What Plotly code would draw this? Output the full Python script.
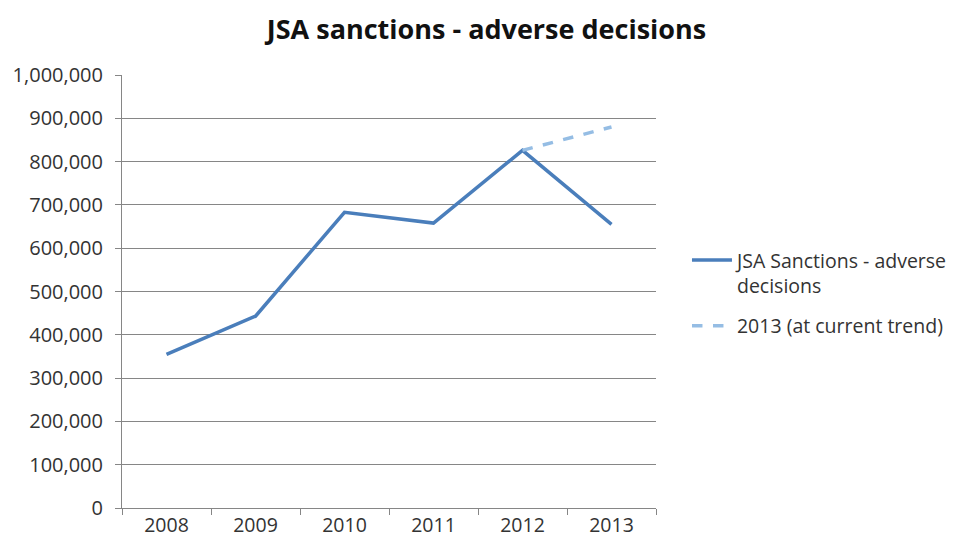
import plotly.graph_objects as go

years = ["2008", "2009", "2010", "2011", "2012", "2013"]
sanctions = [355000, 443000, 683000, 658000, 826000, 655000]
trend = [None, None, None, None, 826000, 880000]
y_ticks = list(range(0, 1000001, 100000))
y_labels = [f"{v:,}" for v in y_ticks]

font_family = "'Open Sans', Lato, Arial, sans-serif"

fig = go.Figure()
fig.add_trace(go.Scatter(
    x=years, y=sanctions, mode="lines",
    name="JSA Sanctions - adverse<br>decisions", legendgroup="a",
    line=dict(color="#4A7EBB", width=3.5),
))
fig.add_trace(go.Scatter(
    x=years, y=trend, mode="lines",
    name="2013 (at current trend)", legendgroup="b",
    line=dict(color="#95BDE4", width=3.5, dash="dash"),
))

fig.update_layout(
    width=957, height=545,
    paper_bgcolor="white", plot_bgcolor="white",
    margin=dict(l=114, r=309, t=67, b=45, autoexpand=False),
    title=dict(text="<b>JSA sanctions - adverse decisions</b>",
               x=0.5, xanchor="center", y=0.96, yanchor="middle",
               font=dict(family=font_family, size=27, color="#111")),
    font=dict(family=font_family, size=20, color="#333"),
    showlegend=True,
    legend=dict(x=1.058, xanchor="left", y=0.617, yanchor="top",
                font=dict(size=19.5, color="#333"), valign="top",
                tracegroupgap=12, itemwidth=40,
                bgcolor="rgba(0,0,0,0)"),
    xaxis=dict(
        type="category", range=[-0.5, 5.5], automargin=False,
        showline=True, linecolor="#868686", linewidth=1,
        ticks="outside", tickson="boundaries", ticklen=6, tickcolor="#868686",
        showgrid=False, tickfont=dict(size=19.5, color="#333"),
        fixedrange=True,
    ),
    yaxis=dict(
        range=[0, 1000000], tickvals=y_ticks, ticktext=y_labels,
        automargin=False,
        showline=True, linecolor="#868686", linewidth=1,
        ticks="outside", ticklen=6, tickcolor="#868686",
        showgrid=True, gridcolor="#868686", gridwidth=1,
        zeroline=False, tickfont=dict(size=20, color="#333"),
        ticklabelstandoff=8,
    ),
)

fig.write_html("out.html")
